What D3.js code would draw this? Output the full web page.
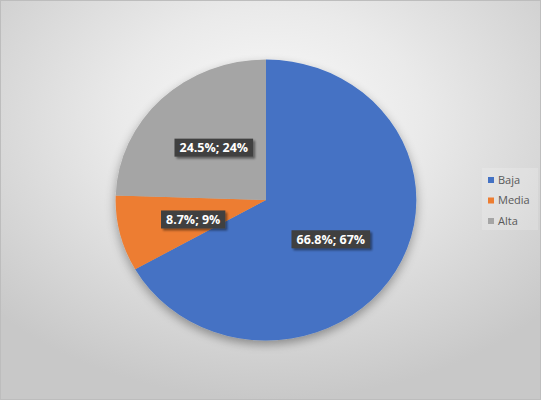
<!DOCTYPE html>
<html>
<head>
<meta charset="utf-8">
<script src="https://cdn.jsdelivr.net/npm/d3@7"></script>
<style>
  body { margin: 0; }
  svg { display: block; }
</style>
</head>
<body>
<div id="chart"></div>
<script>
var categories = ["Baja", "Media", "Alta"];
var percents = [66.8, 8.7, 24.5];
var rounded = [67, 9, 24];
var colors = ["#4472c4", "#ed7d31", "#a5a5a5"];

var width = 541, height = 400;
var cx = 266, cy = 200, radius = 140.5, stretchX = 1.07;

var svg = d3.select("#chart").append("svg")
	.attr("width", width)
	.attr("height", height);

var defs = svg.append("defs");

var grad = defs.append("radialGradient")
	.attr("id", "bg")
	.attr("cx", "50%").attr("cy", "30%")
	.attr("r", "70%");
grad.append("stop").attr("offset", "0%").attr("stop-color", "#fafafa");
grad.append("stop").attr("offset", "40%").attr("stop-color", "#eaeaea");
grad.append("stop").attr("offset", "100%").attr("stop-color", "#c8c8c8");

var shadow = defs.append("filter").attr("id", "pieShadow")
	.attr("x", "-20%").attr("y", "-20%").attr("width", "140%").attr("height", "140%");
shadow.append("feGaussianBlur").attr("in", "SourceAlpha").attr("stdDeviation", 5);
shadow.append("feOffset").attr("dy", 4).attr("result", "off");
shadow.append("feComponentTransfer").append("feFuncA").attr("type", "linear").attr("slope", 0.35);
var merge = shadow.append("feMerge");
merge.append("feMergeNode");
merge.append("feMergeNode").attr("in", "SourceGraphic");

var boxShadow = defs.append("filter").attr("id", "boxShadow")
	.attr("x", "-20%").attr("y", "-40%").attr("width", "140%").attr("height", "180%");
boxShadow.append("feGaussianBlur").attr("in", "SourceAlpha").attr("stdDeviation", 1.2);
boxShadow.append("feOffset").attr("dx", 2).attr("dy", 2).attr("result", "off");
boxShadow.append("feComponentTransfer").append("feFuncA").attr("type", "linear").attr("slope", 0.45);
var merge2 = boxShadow.append("feMerge");
merge2.append("feMergeNode");
merge2.append("feMergeNode").attr("in", "SourceGraphic");

svg.append("rect")
	.attr("x", 0.5).attr("y", 0.5)
	.attr("width", width - 1).attr("height", height - 1)
	.attr("fill", "url(#bg)")
	.attr("stroke", "#bdbdbd");

var pie = d3.pie().sort(null).value(function (d) { return d; });
var arcs = pie(percents);

var arc = d3.arc().innerRadius(0).outerRadius(radius);
var labelArc = d3.arc().innerRadius(75).outerRadius(75);

var pieG = svg.append("g")
	.attr("transform", "translate(" + cx + "," + cy + ")");

pieG.append("g")
	.attr("transform", "scale(" + stretchX + ",1)")
	.attr("filter", "url(#pieShadow)")
	.selectAll("path")
	.data(arcs)
	.enter()
	.append("path")
	.attr("d", arc)
	.attr("fill", function (d, i) { return colors[i]; });

var labels = pieG.selectAll("g.lbl")
	.data(arcs)
	.enter()
	.append("g")
	.attr("class", "lbl")
	.attr("transform", function (d) {
		var c = labelArc.centroid(d);
		return "translate(" + c[0] + "," + (c[1] + 1.5) + ")";
	});

labels.each(function (d, i) {
	var g = d3.select(this);
	var rect = g.append("rect").attr("fill", "#404040").attr("filter", "url(#boxShadow)");
	var t = g.append("text")
		.attr("text-anchor", "middle")
		.attr("dy", "0.36em")
		.attr("fill", "#ffffff")
		.style("font-family", "'Open Sans', 'DejaVu Sans', sans-serif")
		.style("font-weight", "bold")
		.style("font-size", "12.5px")
		.text(percents[i].toFixed(1) + "%; " + rounded[i] + "%");
	var bb = t.node().getBBox();
	rect.attr("x", bb.x - 5).attr("y", -9)
		.attr("width", bb.width + 10).attr("height", 18);
});

// legend
var legend = svg.append("g").attr("transform", "translate(482,168)");
legend.append("rect")
	.attr("width", 56).attr("height", 62)
	.attr("fill", "#ffffff").attr("fill-opacity", 0.18);

var items = legend.selectAll("g.item")
	.data(categories)
	.enter()
	.append("g")
	.attr("class", "item")
	.attr("transform", function (d, i) { return "translate(6," + (12 + i * 20.5) + ")"; });

items.append("rect")
	.attr("x", 0).attr("y", -3)
	.attr("width", 6).attr("height", 6)
	.attr("fill", function (d, i) { return colors[i]; });

items.append("text")
	.attr("x", 10)
	.attr("dy", "0.35em")
	.attr("fill", "#595959")
	.style("font-family", "'Open Sans', 'DejaVu Sans', sans-serif")
	.style("font-size", "11px")
	.text(function (d) { return d; });
</script>
</body>
</html>
